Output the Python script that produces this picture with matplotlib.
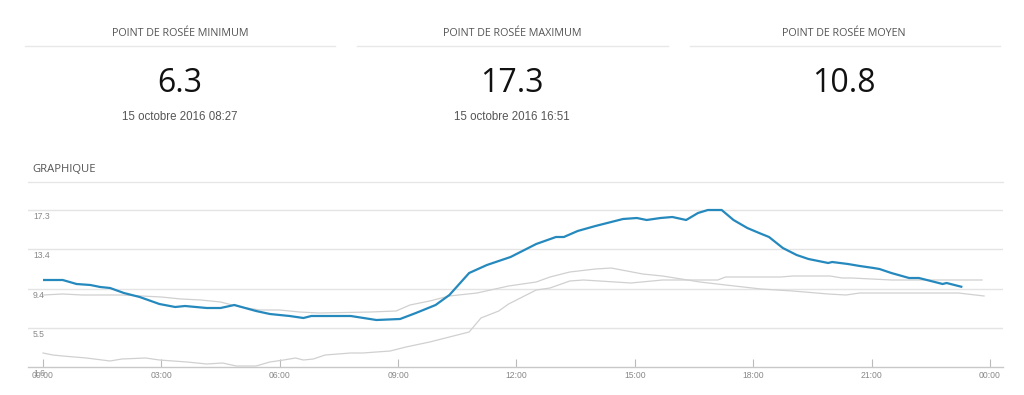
import matplotlib
matplotlib.use("Agg")
import matplotlib.pyplot as plt
from matplotlib.lines import Line2D
import matplotlib.transforms as mtransforms

# ---------------- data ----------------
panel_titles = ["POINT DE ROSÉE MINIMUM", "POINT DE ROSÉE MAXIMUM", "POINT DE ROSÉE MOYEN"]
panel_values = ["6.3", "17.3", "10.8"]
panel_dates = ["15 octobre 2016 08:27", "15 octobre 2016 16:51", ""]

y_ticks = [1.6, 5.5, 9.4, 13.4, 17.3]
x_ticks = [0, 3, 6, 9, 12, 15, 18, 21, 24]
x_labels = ["00:00", "03:00", "06:00", "09:00", "12:00", "15:00", "18:00", "21:00", "00:00"]

blue_h = [0.0, 0.5, 0.85, 1.2, 1.45, 1.7, 2.05, 2.45, 2.95, 3.35, 3.6, 4.15, 4.5, 4.85,
          5.4, 5.75, 6.25, 6.6, 6.8, 7.8, 8.45, 9.05, 9.45, 9.95, 10.3, 10.8, 11.25,
          11.85, 12.5, 13.0, 13.2, 13.55, 14.0, 14.7, 15.05, 15.3, 15.65, 15.95, 16.3,
          16.6, 16.85, 17.2, 17.5, 17.85, 18.15, 18.4, 18.75, 19.1, 19.4, 19.9, 20.0,
          20.4, 20.7, 21.05, 21.2, 21.5, 21.95, 22.2, 22.5, 22.8, 22.9, 23.3]
blue_v = [10.3, 10.3, 9.9, 9.8, 9.6, 9.5, 9.0, 8.6, 7.9, 7.6, 7.7, 7.5, 7.5, 7.8,
          7.2, 6.9, 6.7, 6.5, 6.7, 6.7, 6.3, 6.4, 7.0, 7.8, 8.8, 11.0, 11.8,
          12.6, 13.9, 14.6, 14.6, 15.2, 15.7, 16.4, 16.5, 16.3, 16.5, 16.6, 16.3,
          17.0, 17.3, 17.3, 16.3, 15.5, 15.0, 14.6, 13.5, 12.8, 12.4, 12.0, 12.1,
          11.9, 11.7, 11.5, 11.4, 11.0, 10.5, 10.5, 10.2, 9.9, 10.0, 9.6]

grayA_h = [0, 0.5, 1, 2, 3, 3.5, 4, 4.5, 5, 5.5, 6, 6.5, 7, 8.3, 8.95, 9.3, 9.8, 10.3,
           11.0, 11.8, 12.5, 12.85, 13.35, 14.0, 14.4, 15.2, 15.7, 16.65, 17.3, 18.2,
           19.0, 19.9, 20.35, 20.7, 23.2, 23.85]
grayA_v = [8.8, 8.9, 8.8, 8.8, 8.6, 8.4, 8.3, 8.1, 7.6, 7.3, 7.3, 7.1, 7.0, 7.1, 7.2, 7.8,
           8.2, 8.7, 9.0, 9.7, 10.1, 10.6, 11.1, 11.4, 11.5, 10.9, 10.7, 10.1, 9.8, 9.4,
           9.2, 8.9, 8.8, 9.0, 9.0, 8.7]

grayB_h = [0, 0.25, 0.5, 1.1, 1.7, 2.0, 2.6, 2.95, 3.65, 4.15, 4.55, 4.9, 5.4, 5.75, 6.1,
           6.4, 6.6, 6.85, 7.15, 7.8, 8.1, 8.8, 9.2, 9.8, 10.2, 10.8, 11.1, 11.55, 11.8,
           12.5, 12.85, 13.35, 13.7, 14.9, 15.7, 16.4, 17.1, 17.3, 18.7, 19.0, 19.95,
           20.25, 20.5, 21.5, 23.8]
grayB_v = [3.0, 2.8, 2.7, 2.5, 2.2, 2.4, 2.5, 2.3, 2.1, 1.9, 2.0, 1.7, 1.7, 2.1, 2.3,
           2.5, 2.3, 2.4, 2.8, 3.0, 3.0, 3.2, 3.6, 4.1, 4.5, 5.1, 6.5, 7.2, 7.9,
           9.3, 9.5, 10.2, 10.3, 10.0, 10.3, 10.3, 10.3, 10.6, 10.6, 10.7, 10.7,
           10.5, 10.5, 10.3, 10.3]

# ---------------- figure ----------------
W, H = 1024, 395
fig = plt.figure(figsize=(W / 100, H / 100), dpi=100)
fig.patch.set_facecolor("white")

HEAD_FONT = ["Open Sans", "DejaVu Sans"]
TICK_FONT = ["Liberation Sans", "DejaVu Sans"]
TXT = "#555555"

def fx(px):
    return px / W

def fy(py):
    return 1 - py / H

# header panels
centers = [180, 512, 844]
seps = [(25, 335), (357, 668), (690, 1000)]
for c, (x0, x1), t, v, d in zip(centers, seps, panel_titles, panel_values, panel_dates):
    fig.text(fx(c), fy(33), t, ha="center", va="center", fontsize=7.75,
             color=TXT, family=HEAD_FONT)
    fig.add_artist(Line2D([fx(x0), fx(x1)], [fy(46), fy(46)], color="#e8e8e8", lw=1.0))
    fig.text(fx(c), fy(84), v, ha="center", va="center", fontsize=23,
             color="#111111", family=HEAD_FONT)
    if d:
        fig.text(fx(c), fy(117), d, ha="center", va="center", fontsize=8.3,
                 color=TXT, family=TICK_FONT)

fig.text(fx(32), fy(169), "GRAPHIQUE", ha="left", va="center", fontsize=8.1,
         color=TXT, family=HEAD_FONT)

# chart axes
ax_left, ax_right, ax_top, ax_bottom = 28, 1003, 182, 367
ax = fig.add_axes([fx(ax_left), fy(ax_bottom), (ax_right - ax_left) / W,
                   (ax_bottom - ax_top) / H])
ax.set_xlim(-0.38, 24.33)
ax.set_ylim(1.6, 20.1)

for s in ["left", "right"]:
    ax.spines[s].set_visible(False)
ax.spines["top"].set_color("#e6e6e6")
ax.spines["top"].set_linewidth(1.0)
ax.spines["bottom"].set_color("#c8c8c8")
ax.spines["bottom"].set_linewidth(1.0)

for yv in y_ticks[1:]:
    ax.axhline(yv, color="#e4e4e4", lw=1.0, zorder=0)

ax.set_yticks([])
ax.set_xticks(x_ticks)
ax.set_xticklabels(x_labels, fontsize=6.2, color="#888888", family=TICK_FONT)
ax.tick_params(axis="x", direction="in", length=6, width=0.8, color="#bbbbbb", pad=3)

trans = mtransforms.blended_transform_factory(ax.transAxes, ax.transData)
off = mtransforms.ScaledTranslation(0, -2 / 100, fig.dpi_scale_trans)
for yv in y_ticks:
    ax.text(5 / (ax_right - ax_left), yv, f"{yv:.1f}", transform=trans + off,
            ha="left", va="top", fontsize=6.2, color="#888888", family=TICK_FONT,
            clip_on=False)

ax.plot(grayA_h, grayA_v, color="#d0d0d0", lw=0.9, zorder=2)
ax.plot(grayB_h, grayB_v, color="#d0d0d0", lw=0.9, zorder=2)
ax.plot(blue_h, blue_v, color="#2589bd", lw=1.6, zorder=3, solid_capstyle="butt")

fig.savefig("out.png", dpi=100, facecolor="white")
